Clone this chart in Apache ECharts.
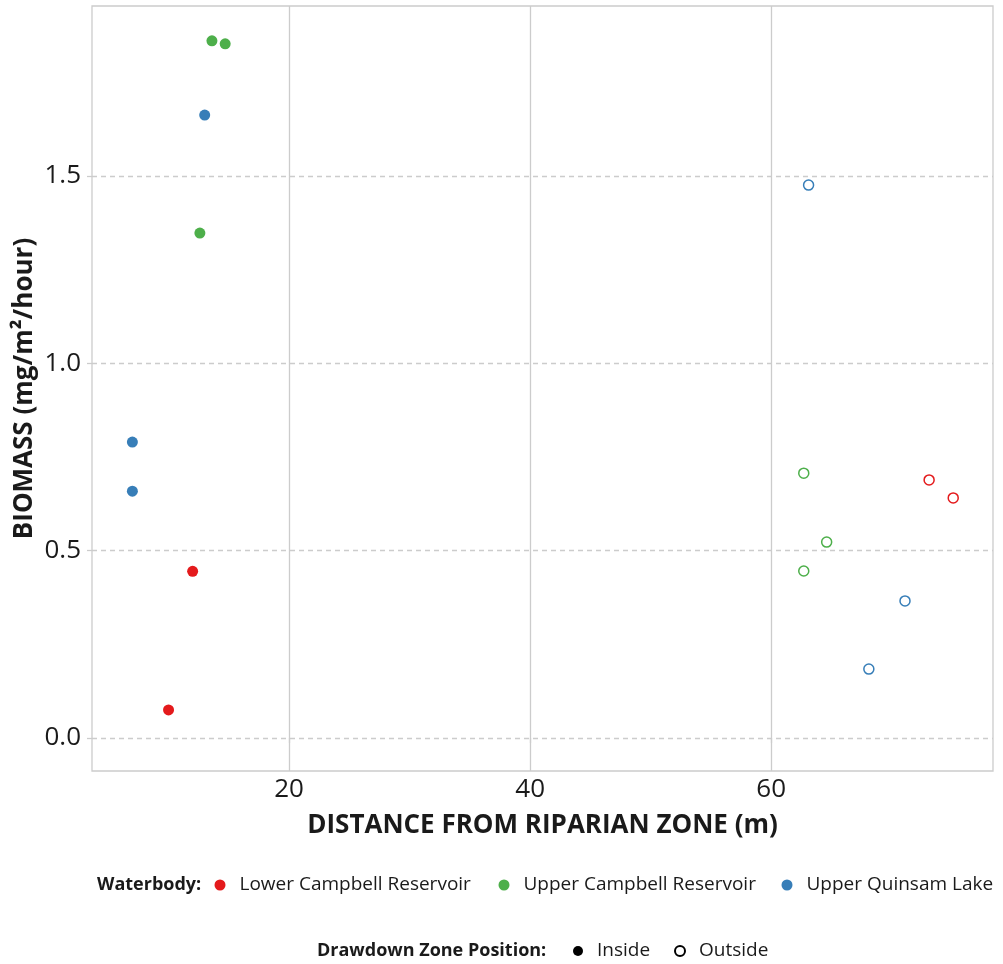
<!DOCTYPE html>
<html>
<head>
<meta charset="utf-8">
<script src="https://cdn.jsdelivr.net/npm/echarts@6/dist/echarts.min.js"></script>
<style>
  html, body { margin: 0; padding: 0; background: #fff; }
  #chart { width: 1003px; height: 964px; }
</style>
</head>
<body>
<div id="chart"></div>
<script>
// Waterbody groups and their colours
const waterbodies = ['Lower Campbell Reservoir', 'Upper Campbell Reservoir', 'Upper Quinsam Lake'];
const colors = ['#E41A1C', '#4DAF4A', '#377EB8'];
const positions = ['Inside', 'Outside'];

// Sampling sites: distance from riparian zone (m), biomass (mg/m²/hour), drawdown zone position
const lowerCampbellDistance = [10.0, 12.0, 73.1, 75.1];
const lowerCampbellBiomass  = [0.075, 0.445, 0.689, 0.641];
const lowerCampbellPosition = ['Inside', 'Inside', 'Outside', 'Outside'];

const upperCampbellDistance = [13.6, 14.7, 12.6, 62.7, 64.6, 62.7];
const upperCampbellBiomass  = [1.861, 1.853, 1.348, 0.707, 0.523, 0.446];
const upperCampbellPosition = ['Inside', 'Inside', 'Inside', 'Outside', 'Outside', 'Outside'];

const quinsamDistance = [7.0, 7.0, 13.0, 63.1, 71.1, 68.1];
const quinsamBiomass  = [0.790, 0.659, 1.663, 1.476, 0.366, 0.184];
const quinsamPosition = ['Inside', 'Inside', 'Inside', 'Outside', 'Outside', 'Outside'];

// Axis ticks
const xTicks = [20, 40, 60];
const yTicks = [0, 0.5, 1.0, 1.5];

const groups = [
  [lowerCampbellDistance, lowerCampbellBiomass, lowerCampbellPosition],
  [upperCampbellDistance, upperCampbellBiomass, upperCampbellPosition],
  [quinsamDistance, quinsamBiomass, quinsamPosition]
];

const textColor = '#1a1a1a';
const font = '"Open Sans", "Liberation Sans", sans-serif';

const series = groups.map((g, i) => ({
  name: waterbodies[i],
  type: 'scatter',
  symbol: 'circle',
  itemStyle: { color: colors[i], opacity: 1 },
  data: g[0].map((x, k) => {
    const inside = g[2][k] === 'Inside';
    return {
      value: [x, g[1][k]],
      symbolSize: inside ? 11 : 10,
      itemStyle: inside
        ? { color: colors[i], borderWidth: 0, opacity: 1 }
        : { color: '#fff', borderColor: colors[i], borderWidth: 1.5, opacity: 1 }
    };
  })
}));

// Empty series that only provide legend keys for drawdown zone position
series.push({
  name: 'Inside', type: 'scatter', symbol: 'circle', data: [],
  itemStyle: { color: '#000', opacity: 1 }
});
series.push({
  name: 'Outside', type: 'scatter', symbol: 'circle', data: [],
  itemStyle: { color: '#fff', borderColor: '#000', borderWidth: 1.2, opacity: 1 }
});

// One legend block per key, so each key sits at its own spot in the footer
function legendItem(name, dotX, centerY, size) {
  return {
    data: [name],
    left: dotX - size / 2,
    top: centerY - 12,
    padding: 0,
    icon: 'circle',
    itemWidth: size, itemHeight: size,
    selectedMode: false,
    textStyle: { fontSize: 19, color: textColor, fontFamily: font,
                 lineHeight: 24, padding: [0, 0, 0, 9] }
  };
}

const chart = echarts.init(document.getElementById('chart'), null, { renderer: 'canvas' });

chart.setOption({
  backgroundColor: '#fff',
  animation: false,
  textStyle: { fontFamily: font },
  grid: { left: 92, top: 6, right: 10, bottom: 193, containLabel: false,
          show: true, borderColor: '#cccccc', borderWidth: 1.3 },
  xAxis: {
    type: 'value',
    min: 3.65, max: 78.4,
    name: 'DISTANCE FROM RIPARIAN ZONE (m)',
    nameLocation: 'middle',
    nameGap: 42,
    nameTextStyle: { fontSize: 26, fontWeight: 'bold', color: textColor, fontFamily: font },
    axisLine: { show: false },
    axisTick: { show: true, length: 5, customValues: xTicks, lineStyle: { color: '#cccccc', width: 1.3 } },
    axisLabel: { customValues: xTicks, fontSize: 26, color: textColor, margin: 6, fontFamily: font },
    splitLine: { show: true, lineStyle: { color: '#cccccc', width: 1.3 } }
  },
  yAxis: {
    type: 'value',
    min: -0.088, max: 1.954,
    name: 'BIOMASS (mg/m²/hour)',
    nameLocation: 'middle',
    nameGap: 54,
    nameMoveOverlap: false,
    nameRotate: 90,
    nameTextStyle: { fontSize: 26, fontWeight: 'bold', color: textColor, fontFamily: font },
    axisLine: { show: false },
    axisTick: { show: true, length: 5, customValues: yTicks, lineStyle: { color: '#cccccc', width: 1.3, type: [5, 4] } },
    axisLabel: { customValues: yTicks, fontSize: 26, color: textColor, margin: 11, fontFamily: font,
                 formatter: v => v.toFixed(1) },
    splitLine: { show: true, lineStyle: { color: '#cccccc', width: 1.3, type: [5, 4] } }
  },
  legend: [
    legendItem(waterbodies[0], 220, 885, 11),
    legendItem(waterbodies[1], 504, 885, 11),
    legendItem(waterbodies[2], 787, 885, 11),
    legendItem(positions[0], 578, 951, 10),
    legendItem(positions[1], 679, 951, 10)
  ],
  graphic: [
    { type: 'text', x: 97, y: 885,
      style: { text: 'Waterbody:', font: 'bold 18px ' + font, fill: textColor, verticalAlign: 'middle' } },
    { type: 'text', x: 317, y: 951,
      style: { text: 'Drawdown Zone Position:', font: 'bold 18px ' + font, fill: textColor, verticalAlign: 'middle' } }
  ],
  series: series
});
</script>
</body>
</html>
